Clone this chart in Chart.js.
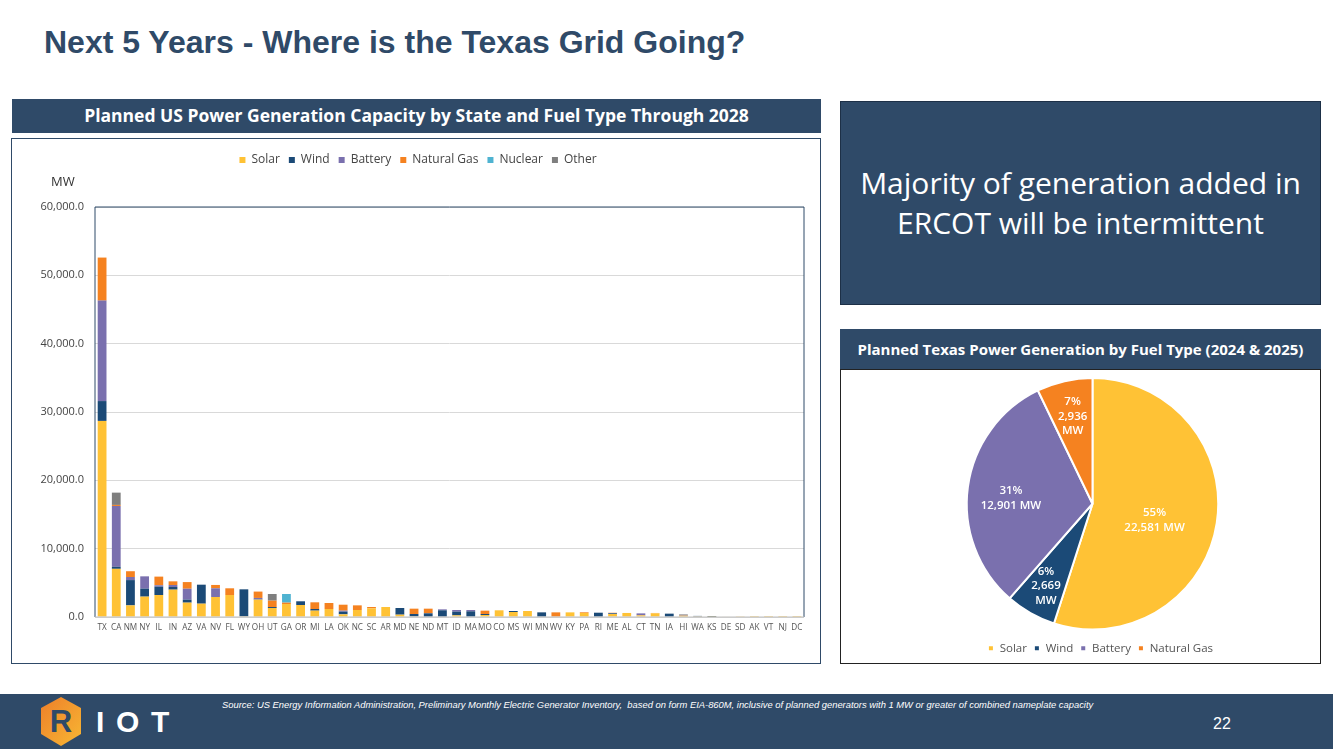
<!DOCTYPE html>
<html><head><meta charset="utf-8">
<script src="https://cdn.jsdelivr.net/npm/chart.js@4/dist/chart.umd.min.js"></script>
<style>
html,body{margin:0;padding:0;background:#fff;width:1333px;height:749px;overflow:hidden;font-family:"Open Sans",sans-serif}
.a{position:absolute;box-sizing:border-box}
.navy{background:#2F4A68;color:#fff}
.hd{display:flex;align-items:center;justify-content:center;font-weight:700;font-family:"Open Sans",sans-serif;white-space:nowrap}
</style></head><body>
<div class="a" style="left:44px;top:24px;font:700 32px 'Liberation Sans',sans-serif;color:#2F4A68;white-space:nowrap">Next 5 Years - Where is the Texas Grid Going?</div>

<div class="a navy hd" style="left:12px;top:99px;width:809px;height:34px;padding-bottom:2px;font-size:17.5px">Planned US Power Generation Capacity by State and Fuel Type Through 2028</div>
<div class="a" style="left:11px;top:138px;width:810px;height:526px;border:1px solid #2F4A68">
  <canvas id="bars" width="808" height="524" style="width:808px;height:524px;display:block"></canvas>
</div>
<div class="a" style="left:51px;top:172px;font-size:13px;color:#333">MW</div>

<div class="a navy" style="left:840px;top:101px;width:481px;height:204px;border:1px solid #1d3047;display:flex;justify-content:center;text-align:center;padding-top:61px;font-size:30px;line-height:40px;white-space:nowrap">Majority of generation added in<br>ERCOT will be intermittent</div>

<div class="a navy hd" style="left:840px;top:329px;width:481px;height:41px;padding-bottom:2px;font-size:15px">Planned Texas Power Generation by Fuel Type (2024 &amp; 2025)</div>
<div class="a" style="left:840px;top:369px;width:481px;height:295px;border:1px solid #222">
  <canvas id="pie" width="479" height="293" style="width:479px;height:293px;display:block"></canvas>
</div>

<div class="a navy" style="left:0;top:694px;width:1333px;height:55px"></div>
<svg class="a" style="left:38px;top:694px" width="140" height="55" viewBox="0 0 140 55">
  <defs><linearGradient id="g" x1="0" y1="0" x2="1" y2="1"><stop offset="0" stop-color="#EE7F2A"/><stop offset="1" stop-color="#F7B733"/></linearGradient></defs>
  <polygon points="23,3 43,14 43,40 23,52 3,40 3,14" fill="url(#g)"/>
  <text x="23" y="38" text-anchor="middle" font-family="Liberation Sans" font-weight="700" font-size="31" fill="#2F4A68">R</text>
  <text x="58" y="38" font-family="Liberation Sans" font-weight="700" font-size="30" fill="#fff">I</text>
  <text x="78" y="38" font-family="Liberation Sans" font-weight="700" font-size="30" fill="#fff">O</text>
  <text x="113" y="38" font-family="Liberation Sans" font-weight="700" font-size="30" fill="#fff">T</text>
</svg>
<div class="a" style="left:222px;top:699px;font:italic 9.4px 'Liberation Sans',sans-serif;color:#fff;white-space:nowrap">Source: US Energy Information Administration, Preliminary Monthly Electric Generator Inventory,&nbsp; based on form EIA-860M, inclusive of planned generators with 1 MW or greater of combined nameplate capacity</div>
<div class="a" style="left:1213px;top:715px;font:16px 'Liberation Sans',sans-serif;color:#fff">22</div>

<script>
const states = ["TX","CA","NM","NY","IL","IN","AZ","VA","NV","FL","WY","OH","UT","GA","OR","MI","LA","OK","NC","SC","AR","MD","NE","ND","MT","ID","MA","MO","CO","MS","WI","MN","WV","KY","PA","RI","ME","AL","CT","TN","IA","HI","WA","KS","DE","SD","AK","VT","NJ","DC"];
const solar   = [28700,7050,1700,2980,3220,4000,2100,1950,2930,3220,100,2540,1320,1900,1760,930,1170,390,1025,1270,1460,340,100,0,0,240,0,290,980,730,880,0,0,680,590,0,440,590,240,540,0,200,100,30,80,40,10,5,5,3];
const wind    = [2900,300,3700,1170,1220,390,440,2780,0,0,3950,50,140,0,540,240,0,390,0,0,0,980,340,540,980,540,830,150,0,150,0,680,0,0,0,630,100,0,0,0,490,0,60,100,0,0,0,0,0,0];
const battery = [14700,8900,450,1800,200,290,1600,0,1270,0,0,200,0,0,0,0,0,150,0,0,0,0,0,0,140,245,195,0,0,0,0,0,0,0,0,0,30,0,290,0,0,100,0,0,0,0,0,0,0,0];
const gas     = [6300,150,850,0,1270,540,970,0,490,980,0,930,930,200,0,980,880,870,680,190,0,0,780,680,0,0,0,490,0,0,0,0,680,0,100,0,50,0,0,50,0,0,0,0,0,0,0,0,0,0];
const nuclear = [0,0,0,0,0,0,0,0,0,0,0,0,0,1270,0,0,0,0,0,0,0,0,0,0,0,0,0,0,0,0,0,0,0,0,0,0,0,0,0,0,0,0,0,0,0,0,0,0,0,0];
const other   = [0,1800,0,0,0,0,0,0,0,0,0,0,980,0,0,0,0,0,0,0,0,0,0,0,0,0,0,0,0,0,0,0,0,0,0,0,0,0,0,0,0,80,0,0,0,0,0,0,0,0];
const yMax = 60000, yStep = 10000;

const pieLabels = ["Solar","Wind","Battery","Natural Gas"];
const pieValues = [22581,2669,12901,2936];
const pieText = [["55%","22,581 MW"],["6%","2,669","MW"],["31%","12,901 MW"],["7%","2,936","MW"]];
const labelRadius = [0.51,0.75,0.65,0.71];
const labelTurn = [0.10,0,-0.07,0];

const C = {solar:"#FFC235",wind:"#1B4A77",battery:"#7A70AE",gas:"#F58220",nuclear:"#4FB3D1",other:"#7F7F7F"};
const FONT = '"Open Sans",sans-serif';
Chart.defaults.animation = false;
Chart.defaults.font.family = FONT;

const frame = {id:"frame",
 afterLayout(c){c.legend.left+=10;c.legend.right+=10;},
 afterDatasetsDraw(c){
  const a=c.chartArea,x=c.ctx;x.save();x.strokeStyle="#2F4A68";x.lineWidth=1;
  x.beginPath();x.moveTo(a.left,a.bottom);x.lineTo(a.left,a.top);x.lineTo(a.right,a.top);x.lineTo(a.right,a.bottom);x.stroke();
  x.strokeStyle="#BFBFBF";x.beginPath();x.moveTo(a.left,a.bottom);x.lineTo(a.right,a.bottom);x.stroke();x.restore();
}};
const ds=(label,data,color)=>({label,data,backgroundColor:color,stack:"s",barPercentage:.62,categoryPercentage:1});
new Chart(document.getElementById("bars"),{
  type:"bar",
  data:{labels:states,datasets:[ds("Solar",solar,C.solar),ds("Wind",wind,C.wind),ds("Battery",battery,C.battery),ds("Natural Gas",gas,C.gas),ds("Nuclear",nuclear,C.nuclear),ds("Other",other,C.other)]},
  plugins:[frame,{id:"lh",beforeInit(c){const f=c.legend.fit;c.legend.fit=function(){f.call(this);this.height=62;};}}],
  options:{
    responsive:false,
    events:[],
    layout:{padding:{left:0,right:16,top:6,bottom:0}},
    plugins:{
      tooltip:{enabled:false},
      legend:{position:"top",align:"center",labels:{boxWidth:6,boxHeight:6,padding:9,color:"#444",font:{size:12,family:FONT}}}
    },
    scales:{
      x:{stacked:true,grid:{display:false,drawTicks:false},border:{display:false},
        ticks:{color:"#555",font:{size:8.2,family:FONT},autoSkip:false,maxRotation:0,minRotation:0,padding:6},
        afterFit(s){s.height=46;}},
      y:{stacked:true,min:0,max:yMax,
        grid:{color:"#D9D9D9",lineWidth:1,drawTicks:false},border:{display:false},
        ticks:{stepSize:yStep,color:"#444",padding:11,font:{size:11,family:FONT},callback:v=>v.toLocaleString("en-US",{minimumFractionDigits:1,maximumFractionDigits:1})},
        afterFit(s){s.width=83;}}
    }
  }
});

const pieLabelPlugin={id:"pieLabels",
 afterLayout(c){c.legend.left+=8;c.legend.right+=8;c.legend.top+=5;c.legend.bottom+=5;},
 afterDatasetsDraw(c){
  const x=c.ctx,m=c.getDatasetMeta(0);x.save();x.fillStyle="#fff";x.font='600 11.5px '+FONT;x.textAlign="center";x.textBaseline="middle";
  m.data.forEach((el,i)=>{
    const a=(el.startAngle+el.endAngle)/2+labelTurn[i],r=el.outerRadius*labelRadius[i];
    const cx=el.x+Math.cos(a)*r,cy=el.y+Math.sin(a)*r,ls=pieText[i],lh=14.5;
    ls.forEach((t,j)=>x.fillText(t,cx,cy+(j-(ls.length-1)/2)*lh));
  });x.restore();
}};
new Chart(document.getElementById("pie"),{
  type:"pie",
  data:{labels:pieLabels,datasets:[{data:pieValues,backgroundColor:[C.solar,C.wind,C.battery,C.gas],borderColor:"#fff",borderWidth:2}]},
  plugins:[pieLabelPlugin],
  options:{
    responsive:false,events:[],
    layout:{padding:{top:7,bottom:4,left:24,right:0}},
    plugins:{tooltip:{enabled:false},
      legend:{position:"bottom",labels:{boxWidth:6,boxHeight:6,padding:7,color:"#555",font:{size:11.5,family:FONT}}}}
  }
});
</script>
</body></html>
